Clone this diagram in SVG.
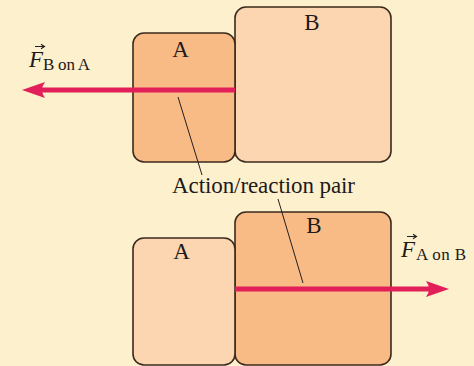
<svg xmlns="http://www.w3.org/2000/svg" width="474" height="366" viewBox="0 0 474 366">
<style>
.bg{fill:#FDF0CD}
.dark{fill:#F9BB86;stroke:#3A2A1E;stroke-width:1.6}
.light{fill:#FCD6B0;stroke:#3A2A1E;stroke-width:1.6}
.lbl{font-family:"Liberation Serif","Times New Roman",serif;fill:#1E1A1A}
.big{font-size:23px}
.sub{font-size:17px}
.fv{font-size:23px;font-style:italic}
.force{stroke:#E21F58;stroke-width:5;fill:none}
.head{fill:#E21F58}
.leader{stroke:#231F20;stroke-width:1;fill:none}
.vec{stroke:#231F20;stroke-width:1.1;fill:none}
</style>
<rect class="bg" x="0" y="0" width="474" height="366"/>
<g id="top-B"><rect class="light" x="235" y="7" width="156" height="155" rx="11"/><text class="lbl big" x="312" y="30" text-anchor="middle">B</text></g>
<g id="top-A"><rect class="dark" x="133" y="33" width="102" height="129" rx="11"/><text class="lbl big" x="180.5" y="57" text-anchor="middle">A</text></g>
<g id="bottom-B"><rect class="dark" x="235" y="212" width="156" height="153" rx="11"/><text class="lbl big" x="314" y="233" text-anchor="middle">B</text></g>
<g id="bottom-A"><rect class="light" x="133" y="238" width="102" height="127" rx="11"/><text class="lbl big" x="181.5" y="259" text-anchor="middle">A</text></g>
<g id="connectors">
<line class="force" x1="235" y1="90" x2="40" y2="90"/>
<path class="head" d="M22,90 L45,82 Q39,90 45,98 Z"/>
<line class="force" x1="235" y1="289" x2="432" y2="289"/>
<path class="head" d="M449,289 L426,281 Q432,289 426,297 Z"/>
<line class="leader" x1="178" y1="97" x2="202" y2="175"/>
<line class="leader" x1="278" y1="199" x2="303" y2="283"/>
</g>
<g id="label-FBA">
<text class="lbl fv" x="29" y="67">F</text>
<text class="lbl sub" x="43" y="70" textLength="47">B on A</text>
<path class="vec" d="M35,46.5 H44 M41,44.3 L44.5,46.5 L41,48.7"/>
</g>
<g id="label-FAB">
<text class="lbl fv" x="401" y="257">F</text>
<text class="lbl sub" x="416" y="260" textLength="50">A on B</text>
<path class="vec" d="M407,236.5 H416 M413,234.3 L416.5,236.5 L413,238.7"/>
</g>
<g id="pair-label"><text class="lbl big" x="263.5" y="193" text-anchor="middle" textLength="183">Action/reaction pair</text></g>
</svg>
